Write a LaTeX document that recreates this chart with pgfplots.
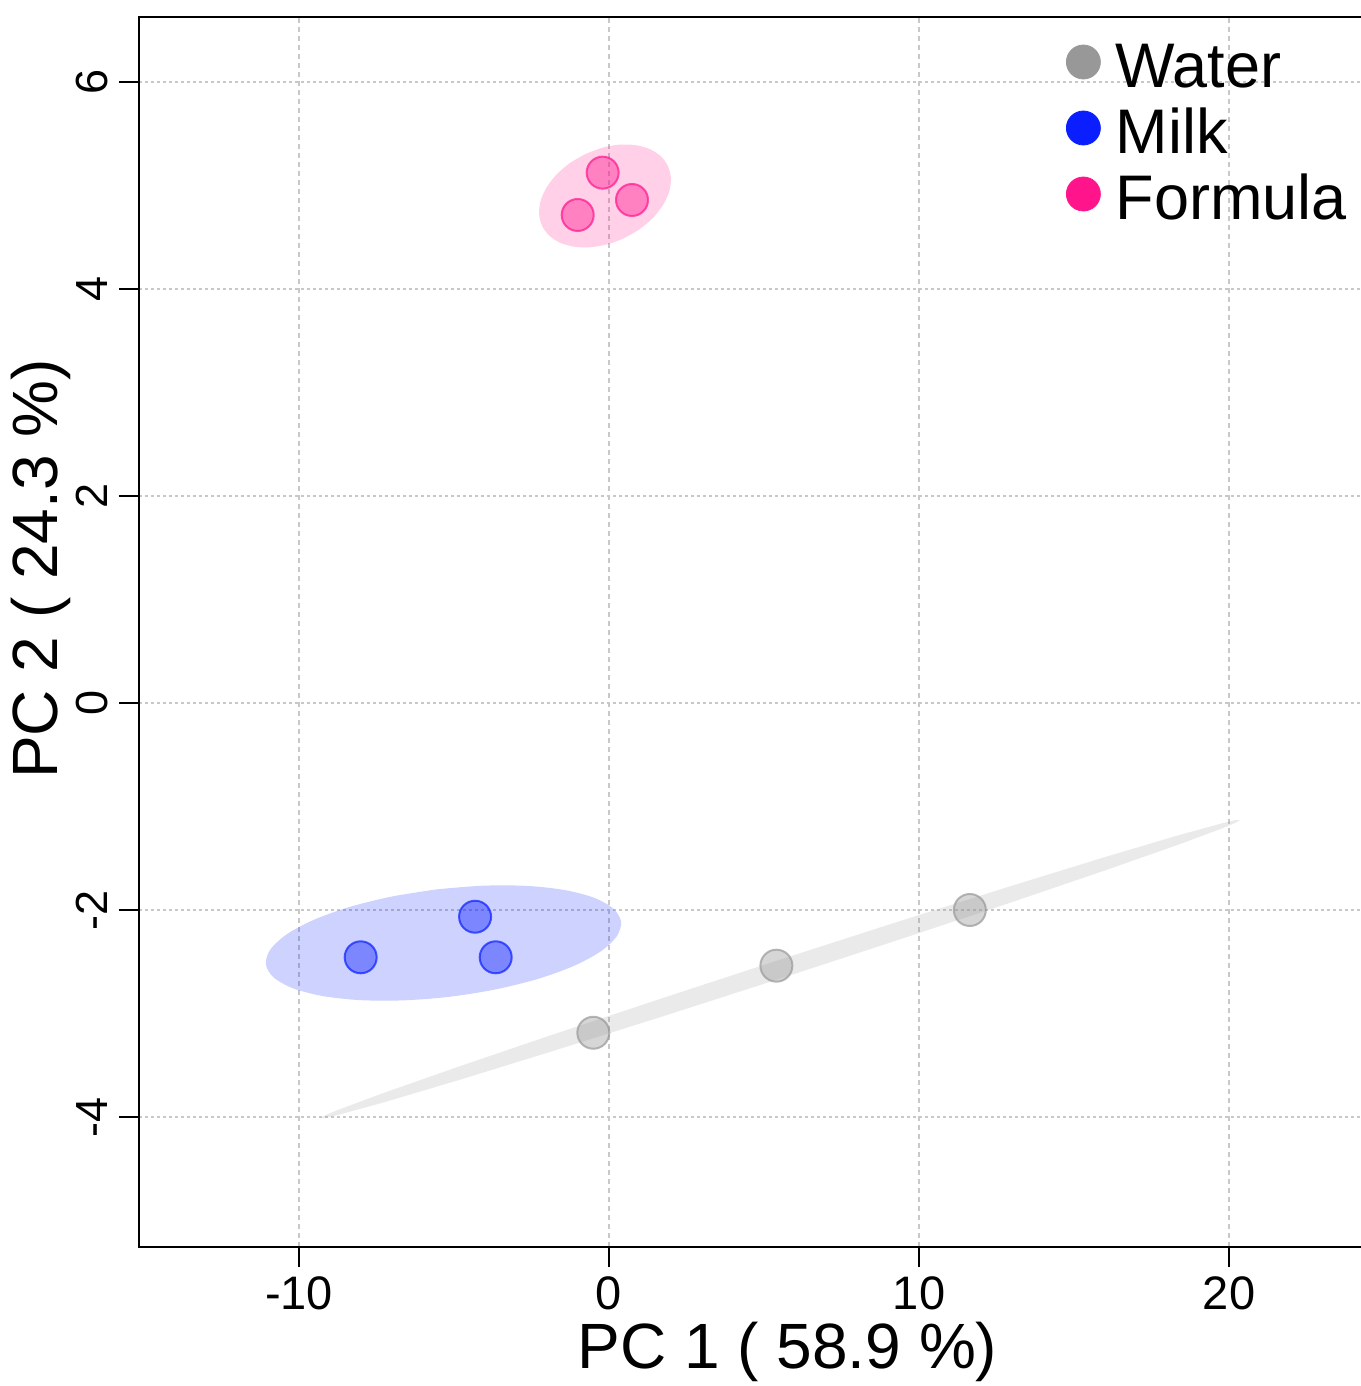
\documentclass[border=0pt]{standalone}
\usepackage{fontspec}
\setmainfont{Liberation Sans}
\usepackage{pgfplots}
\pgfplotsset{compat=1.18}
\definecolor{waterc}{RGB}{152,152,152}
\definecolor{milkc}{RGB}{10,30,255}
\definecolor{formc}{RGB}{255,20,140}
\definecolor{gridc}{RGB}{200,200,200}
\begin{document}
\begin{tikzpicture}
\begin{axis}[
  at={(0,0)}, anchor=south west,
  scale only axis, width=648.5pt, height=615pt,
  xmin=-15.161, xmax=26.677, ymin=-5.256, ymax=6.628,
  xtick={-10,0,10,20}, xticklabels={-10,0,10,20},
  ytick={-4,-2,0,2,4,6}, yticklabels={-4,-2,0,2,4,6},
  xtick pos=bottom, ytick pos=left,
  tick align=outside, major tick length=10pt,
  tick style={black, line width=1pt},
  axis line style={black, line width=1.2pt},
  xmajorgrids, ymajorgrids,
  x grid style={color=gridc, line width=0.9pt, dash pattern=on 2.5pt off 2pt},
  y grid style={color=gridc, line width=0.9pt, dash pattern=on 1.5pt off 1.5pt},
  xticklabel style={font=\fontsize{23.5}{26}\selectfont, anchor=north, inner sep=0pt},
  xticklabel shift=4.5pt,
  yticklabel style={font=\fontsize{22.5}{24}\selectfont, rotate=90, anchor=base, inner sep=0pt},
  yticklabel shift=5.5pt,
  xlabel={PC 1 ( 58.9 \%)}, ylabel={PC 2 ( 24.3 \%)},
  xlabel style={font=\fontsize{32}{34}\selectfont, at={(axis description cs:0.5,0)}, anchor=base, yshift=-60.5pt, inner sep=0pt},
  ylabel style={font=\fontsize{32}{34}\selectfont, at={(axis description cs:-0.06245,0.5512)}, anchor=base, inner sep=0pt},
  legend style={at={(axis description cs:0.7147,0.9821)}, anchor=north west, draw=none, fill=none, inner sep=0pt, outer sep=0pt, row sep=0pt, column sep=7.5pt, font=\fontsize{31.5}{33}\selectfont, nodes={inner sep=0pt, outer sep=0pt, text height=24pt, text depth=9pt, anchor=base west}},
  legend cell align=left,
]
% confidence ellipses
\addplot[fill=waterc, fill opacity=0.2, draw=none, forget plot] coordinates {
(20.353,-1.130) (20.214,-1.132) (19.825,-1.158) (18.322,-1.282) (15.949,-1.493) (12.865,-1.778)
(9.281,-2.117) (5.442,-2.487) (1.610,-2.863) (-1.956,-3.218) (-5.011,-3.530) (-7.348,-3.776)
(-8.807,-3.939) (-9.174,-3.987) (-9.289,-4.010) (-9.150,-4.008) (-8.761,-3.982) (-7.258,-3.858)
(-4.885,-3.647) (-1.801,-3.362) (1.783,-3.023) (5.622,-2.653) (9.454,-2.277) (13.020,-1.922)
(16.075,-1.610) (18.412,-1.364) (19.871,-1.201) (20.238,-1.153) (20.353,-1.130)};
\addplot[smooth, fill=milkc, fill opacity=0.2, draw=none, forget plot] coordinates {
(-5.546,-1.800) (-7.022,-1.871) (-8.383,-1.972) (-9.537,-2.097) (-10.405,-2.237) (-10.927,-2.383)
(-11.069,-2.524) (-10.820,-2.651) (-10.198,-2.756) (-9.244,-2.831) (-8.025,-2.871) (-6.622,-2.873)
(-5.132,-2.838) (-3.656,-2.767) (-2.295,-2.666) (-1.141,-2.541) (-0.273,-2.401) (0.249,-2.255)
(0.391,-2.114) (0.142,-1.987) (-0.480,-1.882) (-1.434,-1.807) (-2.653,-1.767) (-4.056,-1.765)
(-5.546,-1.800)};
\addplot[smooth, fill=formc, fill opacity=0.2, draw=none, forget plot] coordinates {
(-0.774,5.302) (-1.277,5.213) (-1.702,5.103) (-2.019,4.978) (-2.208,4.849) (-2.255,4.722)
(-2.157,4.608) (-1.921,4.514) (-1.563,4.445) (-1.107,4.408) (-0.584,4.404) (-0.030,4.434)
(0.516,4.496) (1.019,4.585) (1.444,4.695) (1.761,4.820) (1.950,4.950) (1.997,5.076)
(1.899,5.190) (1.663,5.285) (1.305,5.353) (0.849,5.390) (0.326,5.394) (-0.228,5.364)
(-0.774,5.302)};
% samples
\addplot[only marks, mark=*, mark size=8pt, forget plot, mark options={fill=waterc, fill opacity=0.4, draw=waterc, draw opacity=0.7, line width=1pt}] coordinates {
(-0.506,-3.186) (5.40,-2.538) (11.64,-2.00)};
\addplot[only marks, mark=*, mark size=8pt, forget plot, mark options={fill=milkc, fill opacity=0.42, draw=milkc, draw opacity=0.7, line width=1pt}] coordinates {
(-8.01,-2.457) (-4.32,-2.065) (-3.655,-2.457)};
\addplot[only marks, mark=*, mark size=8pt, forget plot, mark options={fill=formc, fill opacity=0.42, draw=formc, draw opacity=0.7, line width=1pt}] coordinates {
(-0.204,5.124) (-1.01,4.715) (0.742,4.860)};
% legend
\addlegendimage{legend image code/.code={\fill[waterc] (8.5pt,12.5pt) circle[radius=8.5pt];}}
\addlegendentry{Water}
\addlegendimage{legend image code/.code={\fill[milkc] (8.5pt,12.5pt) circle[radius=8.5pt];}}
\addlegendentry{Milk}
\addlegendimage{legend image code/.code={\fill[formc] (8.5pt,12.5pt) circle[radius=8.5pt];}}
\addlegendentry{Formula}
\end{axis}
\pgfresetboundingbox
\path (-69.5pt,-69.5pt) rectangle (610.5pt,623.5pt);
\end{tikzpicture}
\end{document}
